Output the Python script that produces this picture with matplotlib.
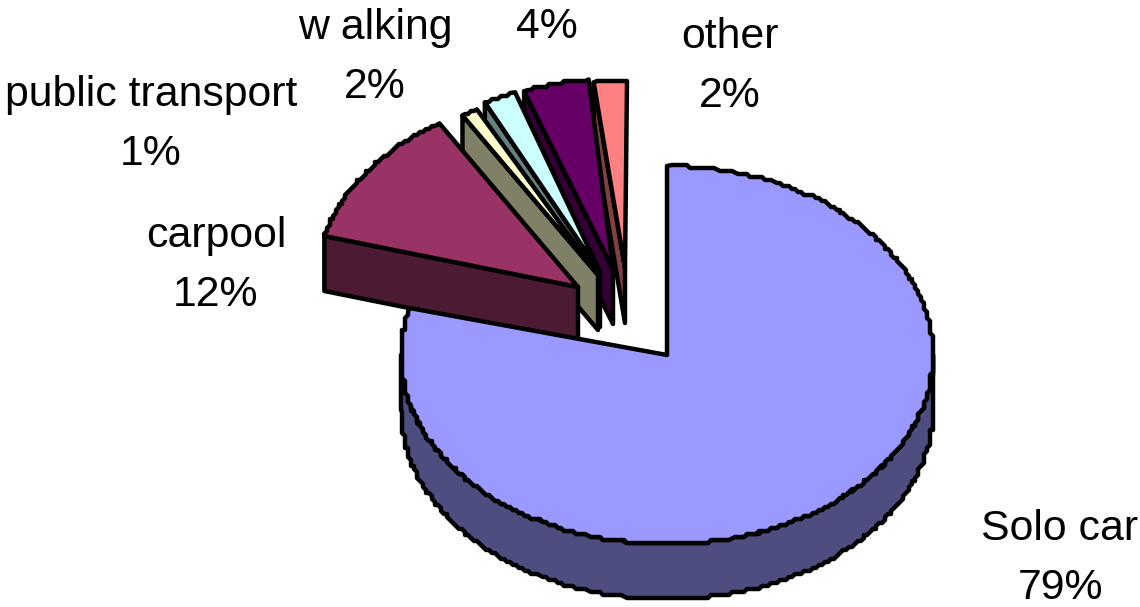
import numpy as np
import matplotlib
matplotlib.use('Agg')
import matplotlib.pyplot as plt
from matplotlib.patches import Polygon

# data, clockwise from 12 o'clock
categories = ['Solo car', 'carpool', 'public transport', 'w alking', '', 'other']
shares = [79, 12, 1, 2, 4, 2]

# look of each slice: top colour, side colour
top_colors = ['#9999FF', '#993366', '#FFFFCC', '#CCFFFF', '#660066', '#FF8080']
side_colors = ['#4D4D80', '#4D1A33', '#808066', '#668080', '#330033', '#804040']

# explode offsets in pixels from the pie centre, tip and rim move a bit differently
tip_shift = [(0, 0), (-89, -68), (-69, -80), (-67, -83), (-54, -86), (-42, -87)]
arc_shift = [(0, 0), (-85, -72), (-62, -80), (-54, -87), (-45, -88), (-40, -85)]
# centre of the name line of each label
label_pos = [(1060, 529), (216, 236), (151, 95), (375, 28), (547, -32), (730, 37)]

CX, CY = 667, 355
RX, RY = 266, 189
DEPTH = 55
LW = 3.2
LINE_STEP = 59


def outer_pts(t0, t1, dx, dy):
    # slightly jagged edge like the original, points snapped to a small grid
    n = max(int((t1 - t0) / 0.8), 6)
    t = np.radians(np.linspace(t0, t1, n))
    x = CX + dx + RX * np.sin(t)
    y = CY + dy - RY * np.cos(t)
    sx = np.round(x / 3) * 3
    sy = np.round(y / 3) * 3
    sx[0], sy[0] = x[0], y[0]
    sx[-1], sy[-1] = x[-1], y[-1]
    return np.column_stack([sx, sy])


def draw_poly(ax, pts, color, z):
    ax.add_patch(Polygon(pts, closed=True, facecolor=color, edgecolor='black',
                         linewidth=LW, joinstyle='round', zorder=z))


fig = plt.figure(figsize=(11.4, 6.07), dpi=100)
ax = fig.add_axes([0, 0, 1, 1])
ax.set_xlim(0, 1140)
ax.set_ylim(607, 0)
ax.axis('off')

edges = np.cumsum([0] + shares) / sum(shares) * 360

# small slices back to front, solo car last
for i in [5, 4, 3, 2, 1, 0]:
    t0, t1 = edges[i], edges[i + 1]
    tip = np.array([CX + tip_shift[i][0], CY + tip_shift[i][1]])
    arc = outer_pts(t0, t1, *arc_shift[i])
    z = 10 + (5 - i) * 2
    if i == 0:
        # outer rim of the big slice, lower half only
        rim = outer_pts(90, 270, 0, 0)
        draw_poly(ax, np.vstack([rim, (rim + [0, DEPTH])[::-1]]), side_colors[i], z)
    else:
        # cut face along the starting edge
        start = arc[0]
        draw_poly(ax, [start, tip, tip + [0, DEPTH], start + [0, DEPTH]], side_colors[i], z)
    draw_poly(ax, np.vstack([tip, arc]), top_colors[i], z + 1)

for name, share, (x, y) in zip(categories, shares, label_pos):
    if name:
        ax.text(x, y, name, ha='center', va='center', fontsize=30.8,
                family='Liberation Sans', zorder=30)
    ax.text(x, y + LINE_STEP, f'{share}%', ha='center', va='center', fontsize=30.8,
            family='Liberation Sans', zorder=30)

fig.savefig('out.png', dpi=100)
